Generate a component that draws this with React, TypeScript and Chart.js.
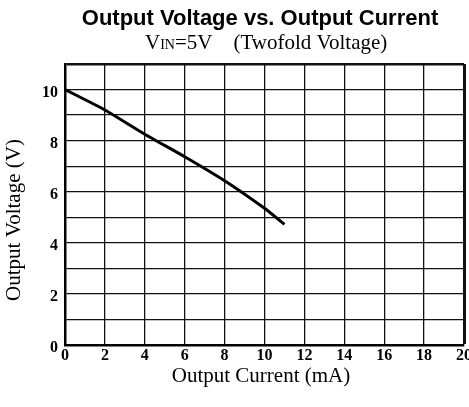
import React, { useEffect, useRef } from "react";
import { Chart, registerables } from "chart.js";

Chart.register(...registerables);

const currentMA = [0, 2, 4, 6, 8, 10, 11];
const voltageV = [10, 9.2, 8.25, 7.37, 6.43, 5.35, 4.72];

const xMin = 0;
const xMax = 20;
const xStep = 2;
const yMin = 0;
const yMax = 11;
const yStep = 1;
const yLabelEvery = 2;

const titleText = "Output Voltage vs. Output Current";
const subtitleParts = [
  { text: "V", small: false },
  { text: "IN", small: true },
  { text: "=", small: false },
  { text: "5V", small: false },
  { text: "    (Twofold Voltage)", small: false },
];
const xTitle = "Output Current (mA)";
const yTitle = "Output Voltage (V)";

const SERIF = '"Liberation Serif", "Times New Roman", serif';
const SANS = '"Liberation Sans", Arial, sans-serif';

const textPlugin = {
  id: "customTexts",
  afterDraw(chart: any) {
    const ctx = chart.ctx as CanvasRenderingContext2D;
    ctx.save();
    ctx.fillStyle = "#000";
    // Title
    ctx.font = `bold 22px ${SANS}`;
    ctx.textAlign = "center";
    ctx.textBaseline = "alphabetic";
    ctx.fillText(titleText, 260, 25);
    // Subtitle
    ctx.textAlign = "left";
    let x = 145;
    for (const p of subtitleParts) {
      ctx.font = p.small ? `14px ${SERIF}` : `21px ${SERIF}`;
      ctx.fillText(p.text, x, 49);
      x += ctx.measureText(p.text).width;
    }
    // X title
    ctx.font = `21px ${SERIF}`;
    ctx.textAlign = "center";
    ctx.textBaseline = "middle";
    ctx.fillText(xTitle, 261, 376);
    // Y title
    ctx.translate(14, 220);
    ctx.rotate(-Math.PI / 2);
    ctx.fillText(yTitle, 0, 0);
    ctx.restore();
  },
};

export default function App() {
  const ref = useRef<HTMLCanvasElement>(null);
  useEffect(() => {
    if (!ref.current) return;
    const chart = new Chart(ref.current, {
      type: "line",
      data: {
        datasets: [
          {
            data: currentMA.map((c, i) => ({ x: c, y: voltageV[i] })),
            borderColor: "#000",
            borderWidth: 3,
            pointRadius: 0,
            tension: 0.2,
            fill: false,
          },
        ],
      },
      options: {
        animation: false,
        responsive: false,
        devicePixelRatio: 1,
        layout: { padding: { top: 64, right: 5, left: 0, bottom: 0 } },
        plugins: {
          legend: { display: false },
          tooltip: { enabled: false },
          title: { display: false },
        },
        scales: {
          x: {
            type: "linear",
            min: xMin,
            max: xMax,
            ticks: {
              stepSize: xStep,
              color: "#000",
              padding: 1,
              font: { family: SERIF, size: 16, weight: "bold" },
              maxRotation: 0,
            },
            grid: {
              color: "#111",
              lineWidth: (c: any) => (c.tick && c.tick.value === xMax ? 3 : 1.3),
              drawTicks: false,
            },
            border: { display: true, color: "#000", width: 2.5 },
            afterFit: (s: any) => {
              s.height = 62;
              s.paddingLeft = 0;
              s.paddingRight = 0;
            },
          },
          y: {
            type: "linear",
            min: yMin,
            max: yMax,
            ticks: {
              stepSize: yStep,
              color: "#000",
              padding: 7,
              labelOffset: 3,
              font: { family: SERIF, size: 16, weight: "bold" },
              callback: (v: any) => (Number(v) % yLabelEvery === 0 ? String(v) : ""),
            },
            grid: {
              color: "#111",
              lineWidth: (c: any) => (c.tick && c.tick.value === yMax ? 2.5 : 1.3),
              drawTicks: false,
            },
            border: { display: true, color: "#000", width: 2.5 },
            afterFit: (s: any) => {
              s.width = 65;
              s.paddingTop = 0;
              s.paddingBottom = 0;
            },
          },
        },
      },
      plugins: [textPlugin],
    } as any);
    return () => chart.destroy();
  }, []);
  return (
    <div style={{ position: "absolute", left: 0, top: 0, width: 469, height: 407, background: "#fff" }}>
      <canvas ref={ref} width={469} height={407} style={{ width: 469, height: 407, display: "block" }} />
    </div>
  );
}
